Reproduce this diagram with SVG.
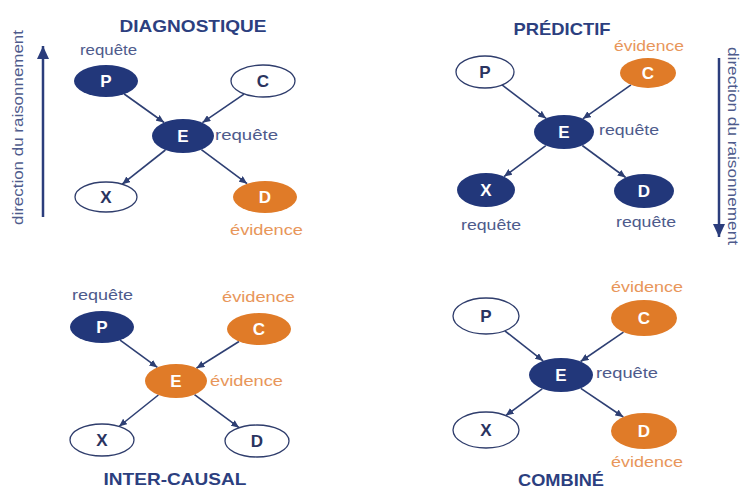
<svg xmlns="http://www.w3.org/2000/svg" width="742" height="491" viewBox="0 0 742 491">
<style>
.bg{fill:#ffffff}
.title{font-family:"Liberation Sans",Arial,sans-serif;font-weight:bold;font-size:16.5px;fill:#2c3f7f;text-anchor:middle}
.lbl{font-family:"Liberation Sans",Arial,sans-serif;font-size:14.5px}
.req{fill:#4e5b8c}
.evi{fill:#e8965a}
.dir{font-family:"Liberation Sans",Arial,sans-serif;font-size:14px;fill:#4e5b8c;text-anchor:middle}
.navy{fill:#22377a}
.orange{fill:#e07b28}
.empty{fill:#ffffff;stroke:#2f3d6c;stroke-width:1.3}
.ltr{font-family:"Liberation Sans",Arial,sans-serif;font-weight:bold;font-size:17px;text-anchor:middle}
.lw{fill:#ffffff}
.ld{fill:#2a3460}
.edge{stroke:#2e3f73;stroke-width:1.6;fill:none;marker-end:url(#ah)}
.dirline{stroke:#2b3d7c;stroke-width:2.5;fill:none;marker-end:url(#big)}
</style>
<defs>
<marker id="ah" markerUnits="userSpaceOnUse" markerWidth="9" markerHeight="7" refX="8" refY="3.5" orient="auto"><path d="M0,0 L8,3.5 L0,7 z" fill="#2e3f73"/></marker>
<marker id="big" markerUnits="userSpaceOnUse" markerWidth="14" markerHeight="12" refX="13" refY="6" orient="auto"><path d="M0,0 L13,6 L0,12 z" fill="#2b3d7c"/></marker>
</defs>
<rect class="bg" x="0" y="0" width="742" height="491"/>

<g id="connectors">
<line class="edge" x1="124.2" y1="94" x2="164.1" y2="122.5"/>
<line class="edge" x1="244" y1="94.1" x2="202.4" y2="122.7"/>
<line class="edge" x1="165.4" y1="150" x2="122.2" y2="184.2"/>
<line class="edge" x1="201.4" y1="149.7" x2="247.1" y2="183.7"/>

<line class="edge" x1="502" y1="84.9" x2="546.1" y2="118.4"/>
<line class="edge" x1="631" y1="84.9" x2="582.8" y2="118.8"/>
<line class="edge" x1="545.8" y1="145.6" x2="504" y2="176.6"/>
<line class="edge" x1="582.3" y1="145.5" x2="625.7" y2="177.5"/>

<line class="edge" x1="120.1" y1="340.2" x2="157.4" y2="367.4"/>
<line class="edge" x1="239" y1="341.5" x2="196.4" y2="368.2"/>
<line class="edge" x1="158.4" y1="395" x2="119" y2="426.5"/>
<line class="edge" x1="194.5" y1="394.7" x2="239.1" y2="427.7"/>

<line class="edge" x1="504.8" y1="330.8" x2="543.1" y2="360.9"/>
<line class="edge" x1="623.5" y1="332.1" x2="580.6" y2="361.5"/>
<line class="edge" x1="542.2" y1="388.8" x2="505.7" y2="415.6"/>
<line class="edge" x1="580.8" y1="388.4" x2="623.3" y2="417"/>

<line class="dirline" x1="43" y1="217" x2="43" y2="46"/>
<line class="dirline" x1="719" y1="58" x2="719" y2="237"/>
</g>

<g id="direction-labels">
<text class="dir" x="23" y="127.5" transform="rotate(-90 23 127.5)" textLength="195" lengthAdjust="spacingAndGlyphs">direction du raisonnement</text>
<text class="dir" x="728" y="146" transform="rotate(90 728 146)" textLength="198" lengthAdjust="spacingAndGlyphs">direction du raisonnement</text>
</g>

<g id="diagnostique">
<text class="title" x="193" y="32" textLength="147" lengthAdjust="spacingAndGlyphs">DIAGNOSTIQUE</text>
<text class="lbl req" x="80" y="55" textLength="57" lengthAdjust="spacingAndGlyphs">requête</text>
<text class="lbl req" x="215" y="140" textLength="63" lengthAdjust="spacingAndGlyphs">requête</text>
<text class="lbl evi" x="230" y="235" textLength="73" lengthAdjust="spacingAndGlyphs">évidence</text>
<g id="diag-P"><ellipse class="navy" cx="106" cy="81" rx="32" ry="16"/><text class="ltr lw" x="106" y="87">P</text></g>
<g id="diag-C"><ellipse class="empty" cx="263" cy="81" rx="32" ry="16"/><text class="ltr ld" x="263" y="87">C</text></g>
<g id="diag-E"><ellipse class="navy" cx="183" cy="136" rx="31" ry="17"/><text class="ltr lw" x="183" y="142">E</text></g>
<g id="diag-X"><ellipse class="empty" cx="106" cy="197" rx="31" ry="15"/><text class="ltr ld" x="106" y="203">X</text></g>
<g id="diag-D"><ellipse class="orange" cx="265" cy="197" rx="32" ry="16"/><text class="ltr lw" x="265" y="203">D</text></g>
</g>

<g id="predictif">
<text class="title" x="562" y="35" textLength="97" lengthAdjust="spacingAndGlyphs">PRÉDICTIF</text>
<text class="lbl evi" x="614" y="51" textLength="70" lengthAdjust="spacingAndGlyphs">évidence</text>
<text class="lbl req" x="599" y="135" textLength="60" lengthAdjust="spacingAndGlyphs">requête</text>
<text class="lbl req" x="461" y="230" textLength="60" lengthAdjust="spacingAndGlyphs">requête</text>
<text class="lbl req" x="616" y="227" textLength="60" lengthAdjust="spacingAndGlyphs">requête</text>
<g id="pred-P"><ellipse class="empty" cx="485" cy="72" rx="29" ry="16"/><text class="ltr ld" x="485" y="78">P</text></g>
<g id="pred-C"><ellipse class="orange" cx="648" cy="73" rx="28" ry="15"/><text class="ltr lw" x="648" y="79">C</text></g>
<g id="pred-E"><ellipse class="navy" cx="564" cy="132" rx="30" ry="17"/><text class="ltr lw" x="564" y="138">E</text></g>
<g id="pred-X"><ellipse class="navy" cx="486" cy="190" rx="29" ry="17"/><text class="ltr lw" x="486" y="196">X</text></g>
<g id="pred-D"><ellipse class="navy" cx="644" cy="191" rx="30" ry="17"/><text class="ltr lw" x="644" y="197">D</text></g>
</g>

<g id="intercausal">
<text class="title" x="175" y="485" textLength="143" lengthAdjust="spacingAndGlyphs">INTER-CAUSAL</text>
<text class="lbl req" x="72" y="300" textLength="61" lengthAdjust="spacingAndGlyphs">requête</text>
<text class="lbl evi" x="222" y="302" textLength="73" lengthAdjust="spacingAndGlyphs">évidence</text>
<text class="lbl evi" x="210" y="386" textLength="73" lengthAdjust="spacingAndGlyphs">évidence</text>
<g id="inter-P"><ellipse class="navy" cx="102" cy="327" rx="32" ry="16"/><text class="ltr lw" x="102" y="333">P</text></g>
<g id="inter-C"><ellipse class="orange" cx="259" cy="329" rx="32" ry="16"/><text class="ltr lw" x="259" y="335">C</text></g>
<g id="inter-E"><ellipse class="orange" cx="176" cy="381" rx="31" ry="17"/><text class="ltr lw" x="176" y="387">E</text></g>
<g id="inter-X"><ellipse class="empty" cx="102" cy="440" rx="32" ry="16"/><text class="ltr ld" x="102" y="446">X</text></g>
<g id="inter-D"><ellipse class="empty" cx="257" cy="441" rx="32" ry="16"/><text class="ltr ld" x="257" y="447">D</text></g>
</g>

<g id="combine">
<text class="title" x="561" y="486" textLength="86" lengthAdjust="spacingAndGlyphs">COMBINÉ</text>
<text class="lbl evi" x="611" y="292" textLength="72" lengthAdjust="spacingAndGlyphs">évidence</text>
<text class="lbl req" x="596" y="378" textLength="62" lengthAdjust="spacingAndGlyphs">requête</text>
<text class="lbl evi" x="611" y="467" textLength="72" lengthAdjust="spacingAndGlyphs">évidence</text>
<g id="comb-P"><ellipse class="empty" cx="486" cy="316" rx="33" ry="18"/><text class="ltr ld" x="486" y="322">P</text></g>
<g id="comb-C"><ellipse class="orange" cx="644" cy="318" rx="33" ry="18"/><text class="ltr lw" x="644" y="324">C</text></g>
<g id="comb-E"><ellipse class="navy" cx="561" cy="375" rx="32" ry="17"/><text class="ltr lw" x="561" y="381">E</text></g>
<g id="comb-X"><ellipse class="empty" cx="486" cy="430" rx="33" ry="18"/><text class="ltr ld" x="486" y="436">X</text></g>
<g id="comb-D"><ellipse class="orange" cx="644" cy="431" rx="33" ry="18"/><text class="ltr lw" x="644" y="437">D</text></g>
</g>
</svg>
